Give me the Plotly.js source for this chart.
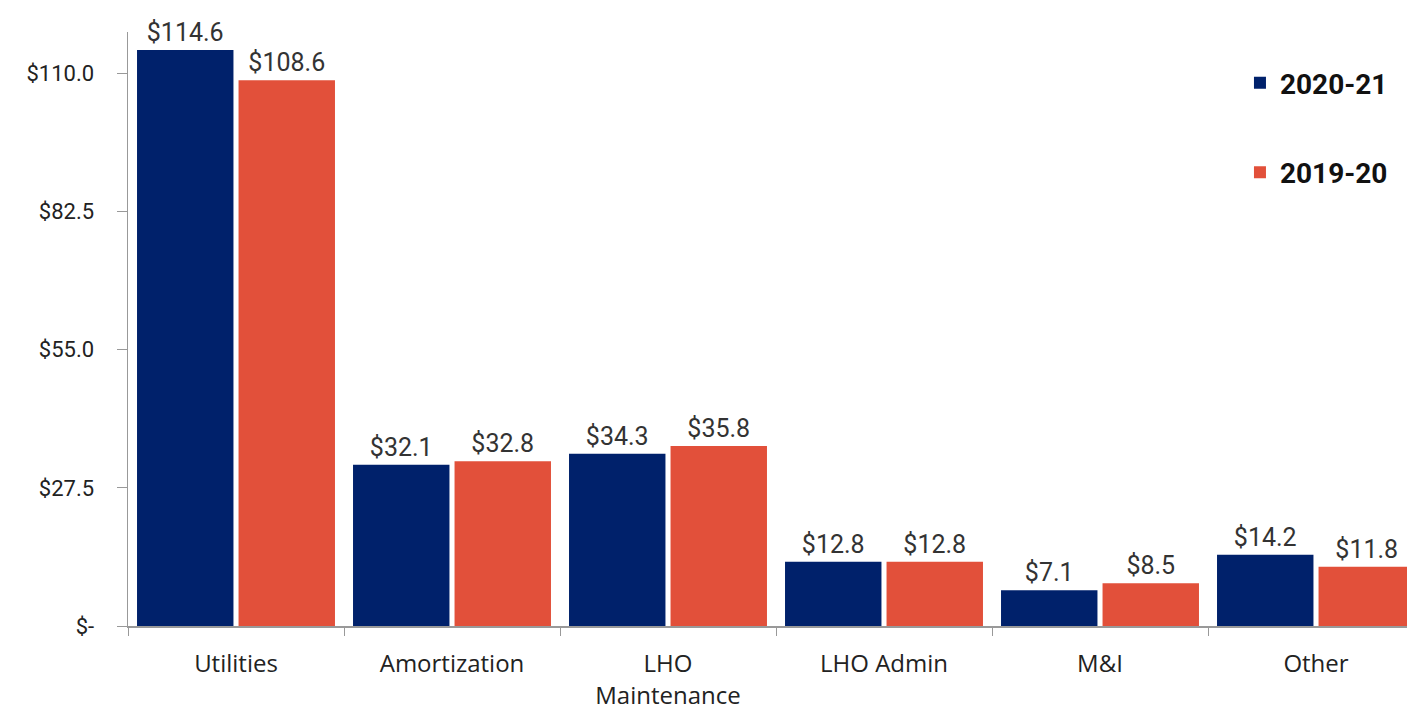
<!DOCTYPE html>
<html>
<head>
<meta charset="utf-8">
<script src="https://cdn.plot.ly/plotly-3.0.1.min.js"></script>
<style>
html,body{margin:0;padding:0;overflow:hidden;background:#fff;}
#chart{width:1424px;height:710px;}
</style>
</head>
<body>
<div id="chart"></div>
<script>
var categories = ["Utilities", "Amortization", "LHO<br>Maintenance", "LHO Admin", "M&I", "Other"];
var series2021 = [114.6, 32.1, 34.3, 12.8, 7.1, 14.2];
var series1920 = [108.6, 32.8, 35.8, 12.8, 8.5, 11.8];
var seriesNames = ["2020-21", "2019-20"];
var yTickVals = [0, 27.5, 55, 82.5, 110];
var yTickText = ["$-", "$27.5", "$55.0", "$82.5", "$110.0"];

function fmt(v){ return "$" + v.toFixed(1); }

var labelFont = {family: "Roboto, sans-serif", size: 25, color: "#333"};

var traces = [
  {
    type: "bar", name: seriesNames[0], x: categories, y: series2021,
    text: series2021.map(fmt), textposition: "outside", cliponaxis: false,
    textfont: labelFont, marker: {color: "#00216B"},
    legendgroup: "a", hoverinfo: "none"
  },
  {
    type: "bar", name: seriesNames[1], x: categories, y: series1920,
    text: series1920.map(fmt), textposition: "outside", cliponaxis: false,
    textfont: labelFont, marker: {color: "#E2503A"},
    legendgroup: "b", hoverinfo: "none"
  }
];

var layout = {
  width: 1424, height: 710,
  margin: {l: 128, r: 0, t: 32, b: 84, pad: 0},
  paper_bgcolor: "#fff", plot_bgcolor: "#fff",
  barmode: "group", bargap: 0.06, bargroupgap: 0.05,
  showlegend: true,
  legend: {
    x: 0.858, xanchor: "left", y: 0.956, yanchor: "top",
    xref: "paper", yref: "paper",
    font: {family: "Roboto, sans-serif", size: 28, color: "#111", weight: "bold"},
    tracegroupgap: 50, itemwidth: 30, bgcolor: "rgba(0,0,0,0)"
  },
  xaxis: {
    type: "category", tickson: "boundaries", ticks: "outside", ticklen: 8,
    tickcolor: "#999", showline: true, linecolor: "#999", linewidth: 1.5,
    showgrid: false, zeroline: false,
    tickfont: {family: "'Open Sans', sans-serif", size: 24, color: "#222"},
    ticklabelstandoff: 16
  },
  yaxis: {
    range: [0, 118.2], tickvals: yTickVals, ticktext: yTickText,
    ticks: "outside", ticklen: 10, tickcolor: "#999",
    showline: true, linecolor: "#999", linewidth: 1.5,
    showgrid: false, zeroline: false,
    tickfont: {family: "Roboto, sans-serif", size: 22, color: "#222"},
    ticklabelstandoff: 18
  }
};

Plotly.newPlot("chart", traces, layout, {displayModeBar: false, staticPlot: true});
</script>
</body>
</html>
